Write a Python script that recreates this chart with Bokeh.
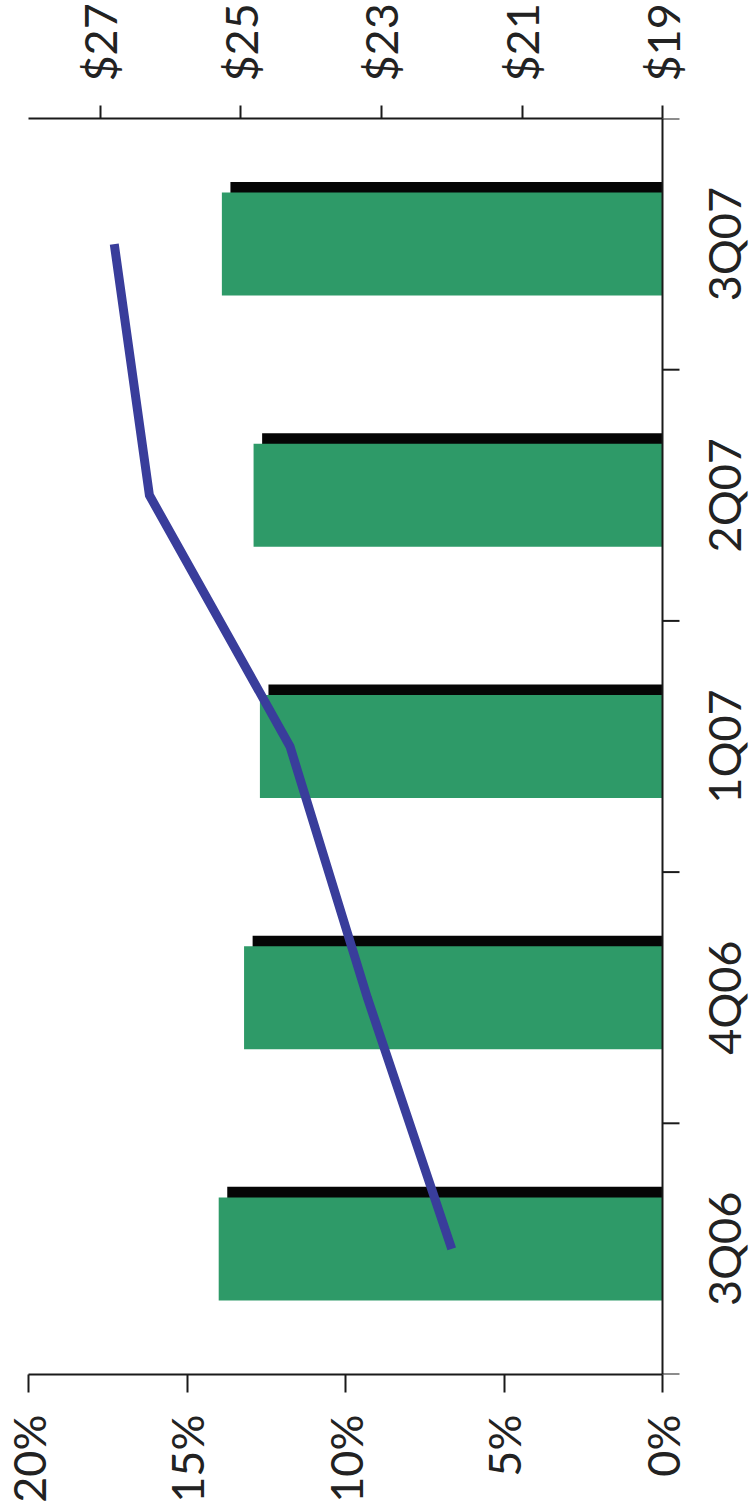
from math import pi
from bokeh.plotting import figure
from bokeh.models import (Range1d, LinearAxis, FixedTicker, PrintfTickFormatter,
                          ColumnDataSource, Span)
from bokeh.core.properties import value
from bokeh.transform import dodge
from bokeh.embed import file_html
from bokeh.resources import INLINE

# ---- data ----
categories = ["3Q06", "4Q06", "1Q07", "2Q07", "3Q07"]
pct_values = [14.0, 13.2, 12.7, 12.9, 13.9]      # bars, left axis (%)
usd_values = [22.0, 23.2, 24.3, 26.3, 26.8]      # line, right axis ($)
pct_ticks = [0, 5, 10, 15, 20]
usd_ticks = [19, 21, 23, 25, 27]

pos = [i + 0.5 for i in range(len(categories))]
bounds = list(range(len(categories) + 1))
src = ColumnDataSource(dict(cat=categories, y=pos, pct=pct_values, usd=usd_values))
bsrc = ColumnDataSource(dict(y=bounds, x=[0] * len(bounds)))

FONT = "Lato"
FSIZE = "45px"
TXT = "#222222"
AX = "#1a1a1a"

# frame spans x 28..750; 0% sits at x=662 so the category labels fit inside
PCT_MIN, PCT_MAX = -2.776, 20
USD_MIN, USD_MAX = 17.75, 28.02

p = figure(width=750, height=1505, output_backend="svg", toolbar_location=None,
           x_range=Range1d(PCT_MAX, PCT_MIN), y_range=Range1d(0, len(categories)),
           y_axis_location=None,
           min_border_left=28, min_border_right=0, min_border_top=118, min_border_bottom=129)
p.extra_x_ranges = {"usd": Range1d(USD_MAX, USD_MIN)}
p.outline_line_color = None
p.xgrid.visible = False
p.ygrid.visible = False
p.background_fill_color = "white"
p.border_fill_color = "white"

# shadow bars
p.hbar(y=dodge("y", 0.042), left=dodge("pct", -0.27), right=0, height=0.41,
       fill_color="#050505", line_color=None, source=src)
# front bars
p.hbar(y="y", left="pct", right=0, height=0.41,
       fill_color="#2E9A68", line_color=None, source=src)
# line
p.line(x="usd", y="y", source=src, x_range_name="usd",
       line_width=9, line_color="#393D9B", line_join="miter")

# category axis at 0%: line, boundary ticks, labels
p.add_layout(Span(location=0, dimension="height", line_color=AX, line_width=2))
p.ray(x="x", y="y", length=17, length_units="screen", angle=0,
      line_color=AX, line_width=2, source=bsrc)
p.text(x=0, y="y", text="cat", source=src, angle=pi / 2, x_offset=34,
       text_align="center", text_baseline="top",
       text_font=value(FONT), text_font_size=value(FSIZE), text_color=TXT)

def style(ax):
    ax.major_label_text_font = FONT
    ax.major_label_text_font_size = FSIZE
    ax.major_label_text_color = TXT
    ax.major_label_orientation = pi / 2
    ax.axis_line_color = AX
    ax.axis_line_width = 2
    ax.major_tick_line_color = AX
    ax.major_tick_line_width = 2
    ax.major_tick_in = 0
    ax.minor_tick_line_color = None

# bottom % axis
xa = p.xaxis[0]
xa.ticker = FixedTicker(ticks=pct_ticks)
xa.formatter = PrintfTickFormatter(format="%d%%")
xa.bounds = (0, PCT_MAX)
style(xa)
xa.major_tick_out = 18
xa.major_label_standoff = 22

# top $ axis
ta = LinearAxis(x_range_name="usd", ticker=FixedTicker(ticks=usd_ticks),
                formatter=PrintfTickFormatter(format="$%d"), bounds=(19, USD_MAX))
style(ta)
ta.major_tick_out = 13
ta.major_label_standoff = 24
p.add_layout(ta, "above")

open("out.html", "w").write(file_html(p, INLINE))
